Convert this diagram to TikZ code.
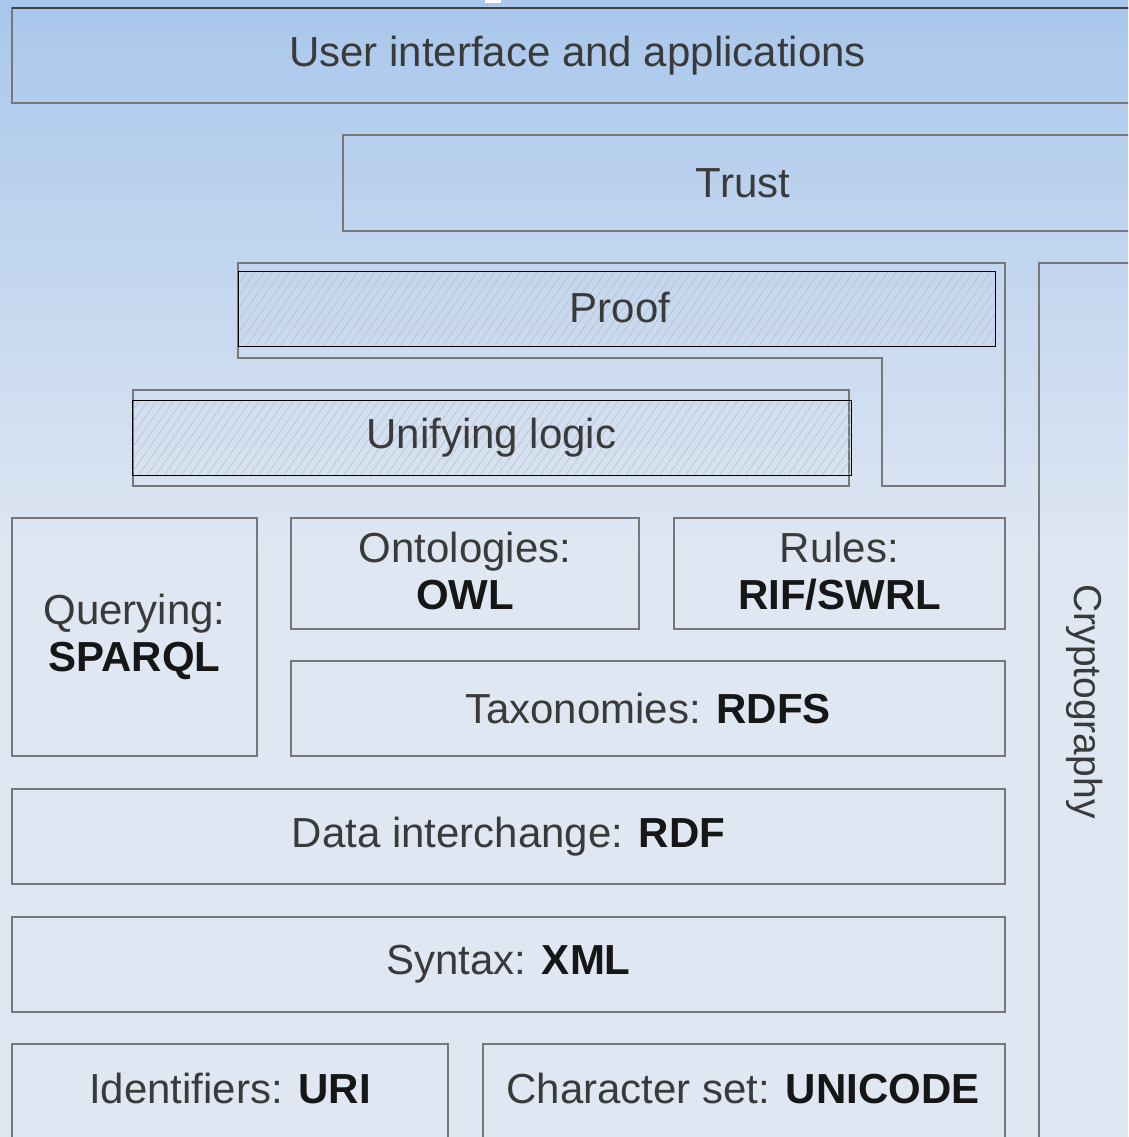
\documentclass[tikz,border=0pt]{standalone}
\usepackage{fontspec}
\setmainfont{Liberation Sans}
\usetikzlibrary{patterns.meta}
\definecolor{bgtop}{HTML}{A9C7EC}
\definecolor{bgbot}{HTML}{DFE7F2}
\definecolor{edge}{HTML}{777777}
\definecolor{txt}{HTML}{3A3A3A}
\definecolor{bld}{HTML}{161616}
\newcommand{\bd}[1]{\textcolor{bld}{\textbf{#1}}}
\tikzset{
  every node/.style={font=\fontsize{42}{47}\selectfont, text=txt, inner sep=0pt, outer sep=0pt, align=center},
  layerbox/.style={draw=edge, line width=2.5pt},
  hatchbox/.style={draw=black, line width=0.9pt, pattern={Lines[angle=55,distance=7pt,line width=0.45pt]}, pattern color=gray!55}
}
\begin{document}
\begin{tikzpicture}[x=1pt,y=-1pt]
\useasboundingbox (0,0) rectangle (1128,1137);
\clip (0,0) rectangle (1128,1137);
% background
\fill[bgbot] (0,0) rectangle (1128,1137);
\shade[top color=bgtop, bottom color=bgbot] (0,0) rectangle (1128,560);
\fill[white] (485,0) rectangle (501,3);
% top layers
\node[layerbox, minimum width=1131pt, minimum height=95pt] (ui) at (577.5,55.5) {User interface and applications};
\draw[black!75, line width=1.5pt] (ui.north west) -- (ui.north east);
\node[layerbox, minimum width=800pt, minimum height=96pt] (trust) at (743,183) {Trust};
% proof L-shape
\coordinate (p1) at (238,263);
\coordinate (p2) at (1005,263);
\coordinate (p3) at (1005,486);
\coordinate (p4) at (882,486);
\coordinate (p5) at (882,358);
\coordinate (p6) at (238,358);
\draw[layerbox] (p1) -- (p2) -- (p3) -- (p4) -- (p5) -- (p6) -- cycle;
\node[hatchbox, minimum width=757pt, minimum height=75pt] (proof) at (616.5,308.5) {};
\node (prooft) at (620,308) {Proof};
% unifying logic
\node[layerbox, minimum width=716pt, minimum height=96pt] (unif) at (491,438) {};
\node[hatchbox, minimum width=719pt, minimum height=75pt] (unifin) at (491.5,437.5) {};
\node (unift) at (unifin.center) {Unifying logic};
% middle
\node[layerbox, minimum width=245pt, minimum height=238pt] (query) at (134.5,637) {Querying:\\\bd{SPARQL}};
\node[layerbox, minimum width=348pt, minimum height=111pt] (onto) at (465,573.5) {};
\node (ontot) at (465,571) {Ontologies:\\\bd{OWL}};
\node[layerbox, minimum width=331pt, minimum height=111pt] (rules) at (839.5,573.5) {};
\node (rulest) at (839.5,571) {Rules:\\\bd{RIF/SWRL}};
\node[layerbox, minimum width=714pt, minimum height=95pt] (taxo) at (648,708.5) {Taxonomies: \bd{RDFS}};
\node[layerbox, minimum width=993pt, minimum height=95pt] (rdf) at (508.5,836.5) {Data interchange: \bd{RDF}};
\node[layerbox, minimum width=993pt, minimum height=95pt] (xml) at (508.5,964.5) {Syntax: \bd{XML}};
\node[layerbox, minimum width=436pt, minimum height=95pt] (uri) at (230,1091.5) {};
\node (urit) at (230,1088) {Identifiers: \bd{URI}};
\node[layerbox, minimum width=522pt, minimum height=95pt] (uni) at (744,1091.5) {};
\node (unit) at (743,1088) {Character set: \bd{UNICODE}};
% cryptography
\node[layerbox, minimum width=92pt, minimum height=877pt] (crypto) at (1085,701.5) {};
\node[rotate=-90, font=\fontsize{39}{44}\selectfont] (cryptot) at (1085,701.5) {Cryptography};
\end{tikzpicture}
\end{document}
